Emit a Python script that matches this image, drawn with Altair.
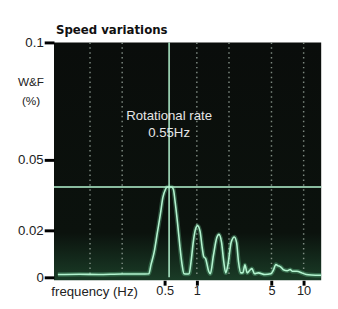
import altair as alt
import pandas as pd

# ---- data ----
freq = [0.05, 0.08, 0.12, 0.2, 0.3, 0.355,
        0.372, 0.399, 0.427, 0.457, 0.481, 0.508, 0.526, 0.554, 0.583, 0.604, 0.624, 0.660, 0.693, 0.728, 0.759,
        0.804, 0.847,
        0.883, 0.934, 0.979, 1.015, 1.071, 1.126, 1.163, 1.205, 1.291, 1.337,
        1.431, 1.536, 1.612, 1.704, 1.787, 1.864,
        1.954, 2.097, 2.245, 2.355, 2.455, 2.58,
        2.70, 2.82, 2.96, 3.13, 3.28, 3.47, 3.77, 4.34, 4.94, 5.2, 5.5, 5.71, 6.08, 6.3, 6.47, 7.03, 7.5, 7.80,
        8.65, 9.3, 9.59, 10.6, 11.8, 14.6]
wf = [0.0012, 0.0013, 0.0012, 0.0014, 0.0014, 0.0015,
      0.0053, 0.0108, 0.0190, 0.0272, 0.0340, 0.0374, 0.0384, 0.0386, 0.0384, 0.0374, 0.0328, 0.0231, 0.0135, 0.0053, 0.0015,
      0.0014, 0.0015,
      0.0067, 0.0163, 0.0210, 0.0220, 0.0197, 0.0122, 0.0087, 0.0081, 0.0026, 0.0015,
      0.0094, 0.0169, 0.0183, 0.0149, 0.0067, 0.0019,
      0.0053, 0.0149, 0.0172, 0.0149, 0.0067, 0.0019,
      0.0020, 0.0053, 0.0019, 0.0030, 0.0037, 0.0015, 0.0019, 0.0012, 0.0015, 0.0030, 0.0055, 0.0050, 0.0045, 0.0038, 0.0032, 0.0028, 0.0033, 0.0026,
      0.0026, 0.0022, 0.0019, 0.0012, 0.0010, 0.0009]
grid_freq = [0.1, 0.2, 1, 2, 5, 10]
rot_rate = [0.55]
peak_level = [0.0385]
x_ticks = [0.5, 1, 5, 10]
y_ticks = [0, 0.02, 0.05, 0.1]
note_lines = ["Rotational rate", "0.55Hz"]
note_y = [0.0686, 0.0614]
title_text = ["Speed variations"]

W, H = 273, 240
FONT = "Liberation Sans"
GREEN = "#b4f4d0"
FS = 13.5

curve = pd.DataFrame({"freq": freq, "wf": wf})
grid = pd.DataFrame({"freq": grid_freq})
vline = pd.DataFrame({"freq": rot_rate})
hline = pd.DataFrame({"wf": peak_level})
notes = pd.DataFrame({"freq": rot_rate * len(note_lines), "wf": note_y, "txt": note_lines})
one = pd.DataFrame({"a": [0]})
ttl = pd.DataFrame({"t": title_text})

xs = alt.Scale(type="log", domain=[0.046, 14.6], nice=False)
ys = alt.Scale(domain=[0, 0.1], nice=False, zero=True)

X_AXIS = alt.Axis(values=x_ticks, format="~g", title="frequency (Hz)", grid=False, domain=False, zindex=1,
                  tickColor="black", tickWidth=3, tickSize=5, offset=3, labelPadding=0,
                  labelFont=FONT, labelFontSize=13, labelColor="#222", labelFlush=False,
                  titleFont=FONT, titleFontSize=FS, titleFontWeight="normal", titleColor="#222",
                  titleX=41, titleY=15.3, titleAlign="center", titleBaseline="alphabetic")
Y_AXIS = alt.Axis(values=y_ticks, format="~g", title=["W&F", "(%)"], titleAngle=0, titleX=-24, titleY=40,
                  titleAlign="center", titleBaseline="middle", titleLineHeight=19, zindex=1,
                  titleFont=FONT, titleFontSize=12, titleFontWeight="normal", titleColor="#222",
                  grid=False, domain=False, tickColor="black", tickWidth=3, tickSize=10, labelPadding=1,
                  labelFont=FONT, labelFontSize=FS, labelColor="#222")

X = lambda f: alt.X(f"{f}:Q", scale=xs, axis=X_AXIS)
Y = lambda f: alt.Y(f"{f}:Q", scale=ys, axis=Y_AXIS)

panel = alt.Chart(one).mark_rect(fill="white").encode(
    x=alt.value(-47), x2=alt.value(W + 2), y=alt.value(-32), y2=alt.value(H + 21))
bg = alt.Chart(one).mark_rect(
    fill=alt.Gradient(gradient="linear", x1=0, x2=0, y1=0, y2=1,
                      stops=[alt.GradientStop(offset=0, color="#0a0d0b"),
                             alt.GradientStop(offset=0.8, color="#0b120d"),
                             alt.GradientStop(offset=1, color="#1a3c27")])
).encode(x=alt.value(0), x2=alt.value(W), y=alt.value(0), y2=alt.value(H + 3))

title_l = alt.Chart(ttl).mark_text(font="DejaVu Sans", fontSize=12, fontWeight="bold", color="#111",
                                    align="left", baseline="middle").encode(
    x=alt.value(2), y=alt.value(-12.5), text="t:N")

grid_l = alt.Chart(grid).mark_rule(color="#9aa89e", strokeWidth=1.5, strokeDash=[1.5, 3.5], opacity=0.8).encode(
    x=X("freq"))

glow = alt.Chart(curve).mark_line(interpolate="monotone", color="#6fdc9f", strokeWidth=4.5, opacity=0.3).encode(
    x=X("freq"), y=Y("wf"))
line = alt.Chart(curve).mark_line(interpolate="monotone", color=GREEN, strokeWidth=1.6).encode(
    x=X("freq"), y=Y("wf"))

vrule = alt.Chart(vline).mark_rule(color=GREEN, strokeWidth=1.5).encode(x=X("freq"))
hrule = alt.Chart(hline).mark_rule(color=GREEN, strokeWidth=1.5).encode(y=Y("wf"))

note = alt.Chart(notes).mark_text(font=FONT, fontSize=FS, color="#e6e6e6", align="center", baseline="middle").encode(
    x=X("freq"), y=Y("wf"), text="txt:N")

chart = alt.layer(panel, bg, title_l, grid_l, glow, line, vrule, hrule, note).properties(
    width=W, height=H, padding=0,
).configure_view(stroke=None)

chart.save("out.html", embed_options={"renderer": "svg", "actions": False})
